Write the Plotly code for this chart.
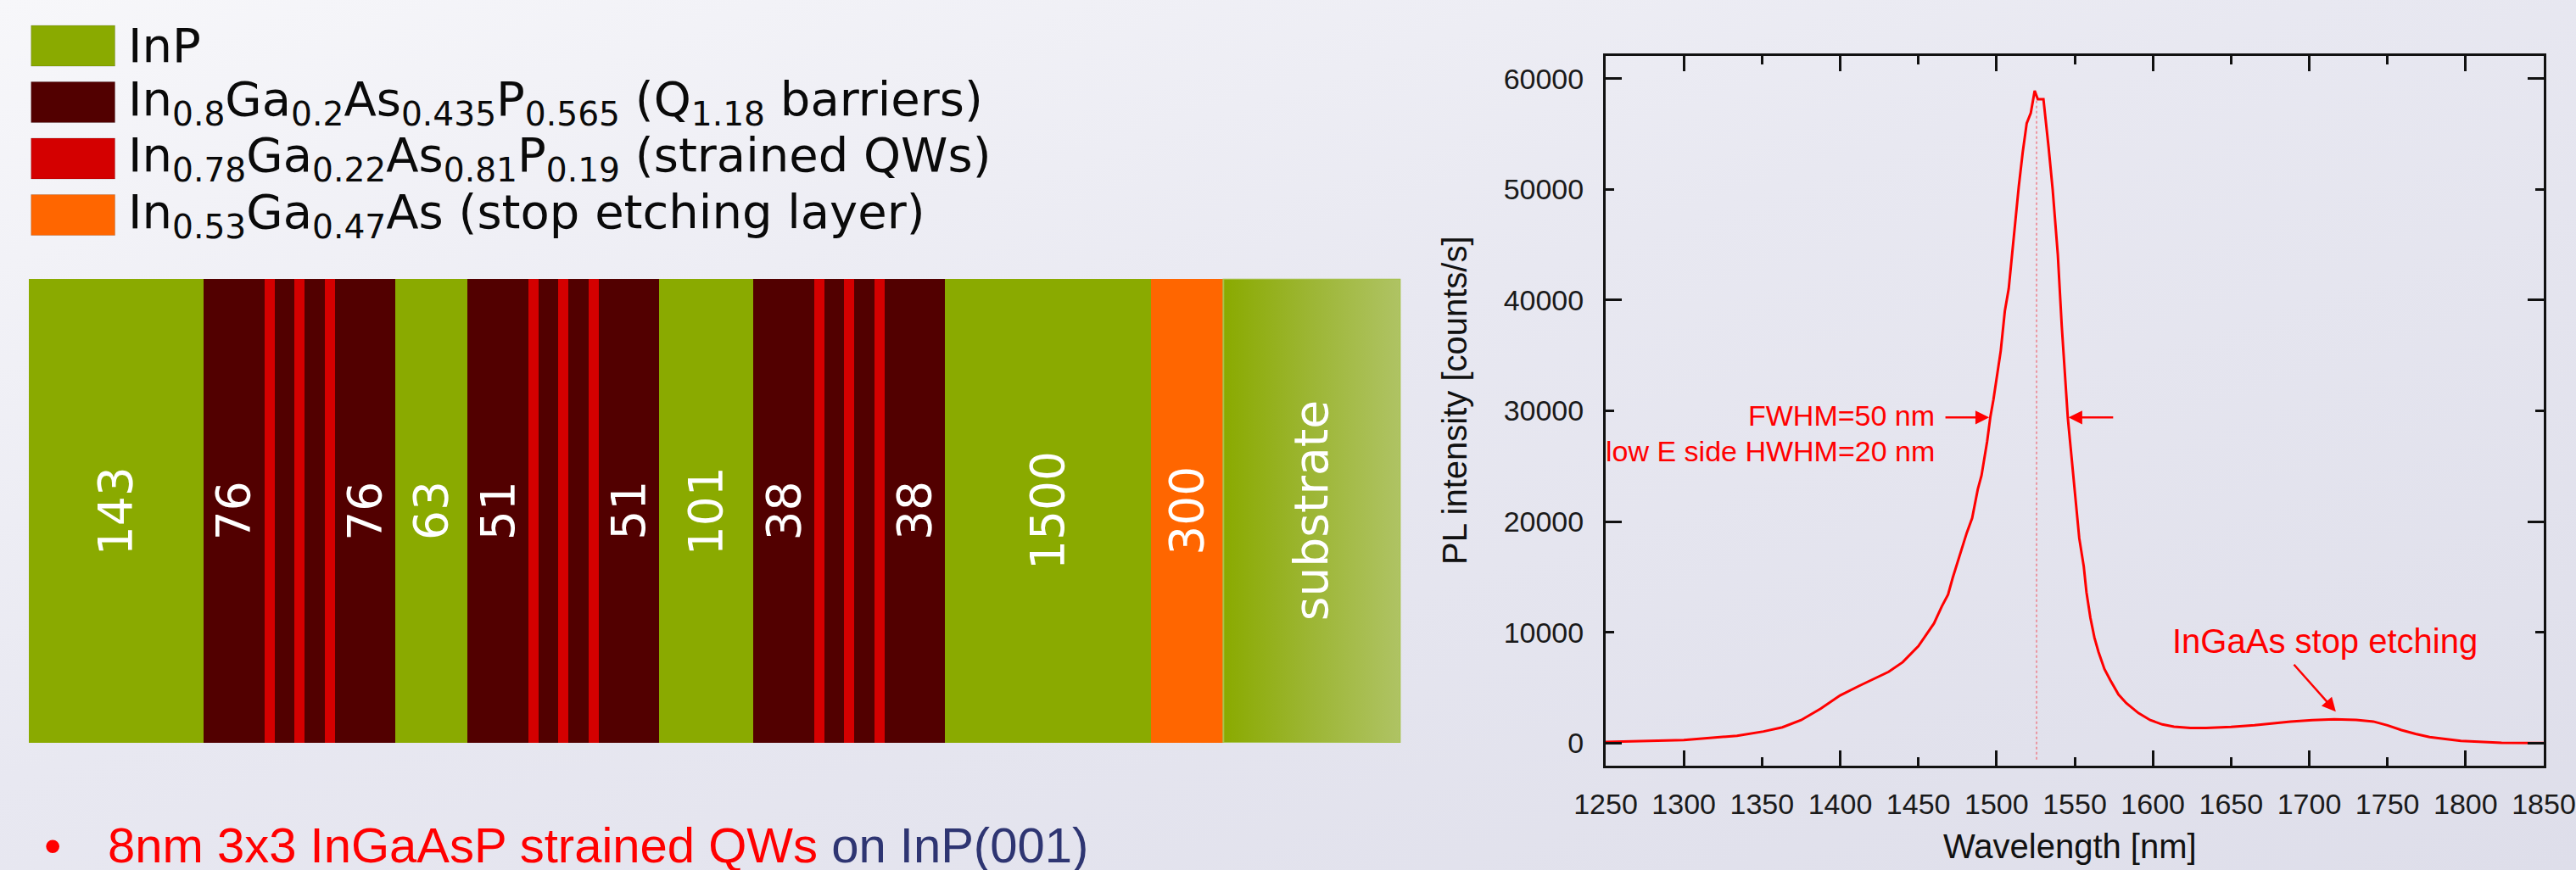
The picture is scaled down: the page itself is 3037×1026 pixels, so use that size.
import base64
import numpy as np
import plotly.graph_objects as go

W, H = 3037, 1026

# ---------------- data ----------------
# Layer stack (growth order, left to right), thickness labels in nm
layer_material = ["InP", "Q", "QW", "Q", "QW", "Q", "QW", "Q",
                  "InP", "Q", "QW", "Q", "QW", "Q", "QW", "Q",
                  "InP", "Q", "QW", "Q", "QW", "Q", "QW", "Q",
                  "InP", "InGaAs", "sub"]
layer_label = ["143", "76", "", "", "", "", "", "76",
               "63", "51", "", "", "", "", "", "51",
               "101", "38", "", "", "", "", "", "38",
               "1500", "300", "substrate"]
# schematic (not-to-scale) drawing widths of the layers
layer_draw_width = [206.4, 71.5, 12, 23.5, 12, 23.5, 12, 71.5,
                    85.0, 71.5, 12, 23.5, 12, 23.5, 12, 71.5,
                    111.0, 71.5, 12, 23.5, 12, 23.5, 12, 71.5,
                    242.2, 85.6, 208.9]

legend_material = ["InP", "Q", "QW", "InGaAs"]
legend_text = [
    "InP",
    "In<sub>0.8</sub>Ga<sub>0.2</sub>As<sub>0.435</sub>P<sub>0.565</sub> (Q<sub>1.18</sub> barriers)",
    "In<sub>0.78</sub>Ga<sub>0.22</sub>As<sub>0.81</sub>P<sub>0.19</sub> (strained QWs)",
    "In<sub>0.53</sub>Ga<sub>0.47</sub>As (stop etching layer)",
]

# PL spectrum
wavelength_nm = [1250, 1275, 1300, 1334, 1351, 1363, 1375, 1387.5, 1400, 1412,
                 1422, 1431, 1440, 1450, 1455, 1460, 1465, 1469, 1472,
                 1477.6, 1481, 1484.4, 1488, 1490.4, 1494, 1496, 1498, 1502.7, 1505.3,
                 1507.8, 1510.3, 1511.6, 1514.2, 1516.7, 1519.3, 1521.9, 1524.4, 1526.4, 1530,
                 1533.3, 1535.9, 1539.2, 1541.7, 1545.6, 1551, 1552.9, 1555.8, 1557.5, 1560,
                 1562.6, 1565.2, 1569, 1572.8, 1578, 1583, 1590.7, 1598.3, 1606, 1613.5,
                 1624, 1634, 1650, 1665, 1688, 1702, 1716, 1730, 1741, 1750,
                 1759, 1768, 1777, 1797, 1823, 1850]
pl_counts = [100, 160, 270, 650, 1040, 1420, 2070, 3100, 4300, 5150,
             5800, 6430, 7300, 8750, 9780, 10800, 12340, 13400, 14930,
             17480, 19000, 20310, 22900, 24160, 27250, 29400, 31000, 35430, 39000,
             41040, 44600, 46900, 50230, 53300, 55970, 56900, 58900, 58150, 58150,
             53800, 50000, 44100, 37700, 29350, 21080, 18500, 15940, 13630, 11330,
             9520, 8230, 6690, 5670, 4380, 3600, 2710, 2070, 1680, 1480,
             1350, 1350, 1450, 1610, 1940, 2060, 2140, 2090, 1940, 1600,
             1170, 820, 540, 190, 20, 0]
peak_wavelength = 1525.6
peak_counts = 58100
fwhm_left_nm = 1495.3
fwhm_right_nm = 1546.0
fwhm_level = 29400
stop_etch_peak = (1717, 2830)

x_ticks = list(range(1250, 1851, 50))
x_major = list(range(1300, 1801, 100))
y_ticks = list(range(0, 60001, 10000))
y_major = [0, 20000, 40000, 60000]

# ---------------- styling ----------------
mat_color = {"InP": "#8AAA00", "Q": "#520000", "QW": "#D40000",
             "InGaAs": "#FF6600", "sub": "#8AAA00"}
RED = "#FF0000"
NAVY = "#2E3572"
PLFONT = "Liberation Sans, Arial, sans-serif"
DVFONT = "DejaVu Sans, sans-serif"


def px(x):
    return x / W


def py(y):
    return 1 - y / H


fig = go.Figure()

# ---------------- layer stack ----------------
widths = np.array(layer_draw_width)
starts = np.concatenate([[0], np.cumsum(widths)[:-1]])
centers = starts + widths / 2
total = float(widths.sum())

fig.add_trace(go.Bar(
    x=centers, y=[1] * len(widths), width=widths, base=0,
    marker=dict(color=[mat_color[m] for m in layer_material], line=dict(width=0)),
    xaxis="x3", yaxis="y3", hoverinfo="skip", showlegend=False,
))
# substrate gradient overlay
i_sub = layer_material.index("sub")
s0, s1 = starts[i_sub], starts[i_sub] + widths[i_sub]
fig.add_trace(go.Scatter(
    x=[s0, s1, s1, s0, s0], y=[0, 0, 1, 1, 0], mode="lines",
    fill="toself",
    fillgradient=dict(type="horizontal",
                      colorscale=[[0, "#8AAA00"], [0.5, "#9DB635"], [1, "#AFC364"]]),
    line=dict(color="#A7C24E", width=2),
    xaxis="x3", yaxis="y3", hoverinfo="skip", showlegend=False,
))

# ---------------- PL spectrum ----------------
fig.add_trace(go.Scatter(
    x=[peak_wavelength, peak_wavelength], y=[-1500, peak_counts], mode="lines",
    line=dict(color="rgba(240,120,130,0.7)", width=2, dash="dot"),
    xaxis="x", yaxis="y", hoverinfo="skip", showlegend=False,
))
fig.add_trace(go.Scatter(
    x=wavelength_nm, y=pl_counts, mode="lines",
    line=dict(color=RED, width=3),
    xaxis="x", yaxis="y", showlegend=False,
))
# invisible trace for the long-tick overlay axes
fig.add_trace(go.Scatter(
    x=[1250], y=[0], mode="markers", marker=dict(opacity=0),
    xaxis="x4", yaxis="y4", hoverinfo="skip", showlegend=False,
))

xr = [1250, 1850]
yr = [-2050, 62050]
xdom = [px(1893), px(2999)]
ydom = [py(903), py(66)]

axis_common = dict(showgrid=False, zeroline=False, ticks="inside",
                   tickwidth=3, tickcolor="#111", automargin=False)

layout = dict(
    width=W, height=H,
    margin=dict(l=0, r=0, t=0, b=0, pad=0),
    paper_bgcolor="#E9E9F1",
    plot_bgcolor="rgba(0,0,0,0)",
    showlegend=False,
    xaxis=dict(domain=xdom, range=xr, anchor="y", tickvals=x_ticks,
               ticktext=[str(v) for v in x_ticks], ticklen=10,
               showline=True, linewidth=3, linecolor="#111", mirror="ticks",
               tickfont=dict(family=PLFONT, size=34, color="#1a1a1a"),
               ticklabelstandoff=13, **axis_common),
    yaxis=dict(domain=ydom, range=yr, anchor="x", tickvals=y_ticks,
               ticktext=[str(v) for v in y_ticks], ticklen=10,
               showline=True, linewidth=3, linecolor="#111", mirror="ticks",
               tickfont=dict(family=PLFONT, size=34, color="#1a1a1a"),
               ticklabelstandoff=16, **axis_common),
    xaxis4=dict(overlaying="x", range=xr, anchor="y4", tickvals=x_major, ticklen=18,
                showticklabels=False, showline=False, mirror="ticks", side="bottom",
                **axis_common),
    yaxis4=dict(overlaying="y", range=yr, anchor="x4", tickvals=y_major, ticklen=19,
                showticklabels=False, showline=False, mirror="ticks", side="left",
                **axis_common),
    xaxis3=dict(domain=[px(33.6), px(1651.3)], range=[0, total], anchor="y3",
                visible=False, fixedrange=True, automargin=False),
    yaxis3=dict(domain=[py(876), py(328.7)], range=[0, 1], anchor="x3",
                visible=False, fixedrange=True, automargin=False),
    bargap=0,
)
fig.update_layout(**layout)

# background gradient
svg = ('<svg xmlns="http://www.w3.org/2000/svg" width="3037" height="1026" '
       'preserveAspectRatio="none"><defs><linearGradient id="g" x1="0" y1="0" x2="1" y2="1">'
       '<stop offset="0" stop-color="#F7F7FA"/><stop offset="0.45" stop-color="#E8E8F1"/>'
       '<stop offset="1" stop-color="#DEDEEA"/></linearGradient></defs>'
       '<rect width="3037" height="1026" fill="url(#g)"/></svg>')
src = "data:image/svg+xml;base64," + base64.b64encode(svg.encode()).decode()
fig.add_layout_image(dict(source=src, xref="paper", yref="paper", x=0, y=1,
                          sizex=1, sizey=1, xanchor="left", yanchor="top",
                          sizing="stretch", layer="below"))

annotations = []

# layer labels
for c, lab in zip(centers, layer_label):
    if lab:
        annotations.append(dict(x=c, y=0.5, xref="x3", yref="y3", text=lab,
                                showarrow=False, textangle=-90,
                                font=dict(family=DVFONT, size=55, color="white"),
                                xanchor="center", yanchor="middle"))

# legend swatches + text
shapes = []
for i, (m, t) in enumerate(zip(legend_material, legend_text)):
    y0 = 30 + 66.5 * i
    shapes.append(dict(type="rect", xref="paper", yref="paper",
                       x0=px(36.7), x1=px(135.5), y0=py(y0 + 48), y1=py(y0),
                       fillcolor=mat_color[m], line=dict(width=1, color="rgba(0,0,0,0.15)")))
    annotations.append(dict(x=px(149), y=py(y0 + 24), xref="paper", yref="paper",
                            text=t, showarrow=False, xanchor="left", yanchor="middle",
                            font=dict(family=DVFONT, size=56, color="#0a0a0a")))

# bullet line
annotations.append(dict(x=px(62), y=py(996), xref="paper", yref="paper", text="•",
                        showarrow=False, xanchor="center", yanchor="middle",
                        font=dict(family=PLFONT, size=58, color=RED)))
annotations.append(dict(x=px(125), y=py(996), xref="paper", yref="paper",
                        text="8nm 3x3 InGaAsP strained QWs <span style='color:%s'>on InP(001)</span>" % NAVY,
                        showarrow=False, xanchor="left", yanchor="middle",
                        font=dict(family=PLFONT, size=58, color=RED)))

# PL annotations
annotations.append(dict(x=1461.6, y=29600, xref="x", yref="y", text="FWHM=50 nm",
                        showarrow=False, xanchor="right", yanchor="middle",
                        font=dict(family=PLFONT, size=34, color=RED)))
annotations.append(dict(x=1461.6, y=26400, xref="x", yref="y", text="low E side HWHM=20 nm",
                        showarrow=False, xanchor="right", yanchor="middle",
                        font=dict(family=PLFONT, size=34, color=RED)))
annotations.append(dict(x=fwhm_left_nm, y=fwhm_level, ax=1466.5, ay=fwhm_level,
                        xref="x", yref="y", axref="x", ayref="y", text="",
                        showarrow=True, arrowhead=2, arrowsize=1.3, arrowwidth=2.5,
                        arrowcolor=RED))
annotations.append(dict(x=fwhm_right_nm, y=fwhm_level, ax=1575.4, ay=fwhm_level,
                        xref="x", yref="y", axref="x", ayref="y", text="",
                        showarrow=True, arrowhead=2, arrowsize=1.3, arrowwidth=2.5,
                        arrowcolor=RED))
annotations.append(dict(x=1710, y=9190, xref="x", yref="y", text="InGaAs stop etching",
                        showarrow=False, xanchor="center", yanchor="middle",
                        font=dict(family=PLFONT, size=40, color=RED)))
annotations.append(dict(x=stop_etch_peak[0], y=stop_etch_peak[1], ax=1689.5, ay=7200,
                        xref="x", yref="y", axref="x", ayref="y", text="",
                        showarrow=True, arrowhead=2, arrowsize=1.3, arrowwidth=2.5,
                        arrowcolor=RED))

# axis titles
annotations.append(dict(x=px(1715), y=py(472), xref="paper", yref="paper",
                        text="PL intensity [counts/s]", showarrow=False, textangle=-90,
                        xanchor="center", yanchor="middle",
                        font=dict(family=PLFONT, size=40, color="#111")))
annotations.append(dict(x=px(2440), y=py(998), xref="paper", yref="paper",
                        text="Wavelength [nm]", showarrow=False,
                        xanchor="center", yanchor="middle",
                        font=dict(family=PLFONT, size=40, color="#111")))

fig.update_layout(annotations=annotations, shapes=shapes)
fig.write_html(
    "out.html",
    config={"displayModeBar": False, "staticPlot": True},
    post_script="document.body.style.margin='0';document.body.style.padding='0';"
                "document.body.style.overflow='hidden';"
                "document.documentElement.style.overflow='hidden';",
)
